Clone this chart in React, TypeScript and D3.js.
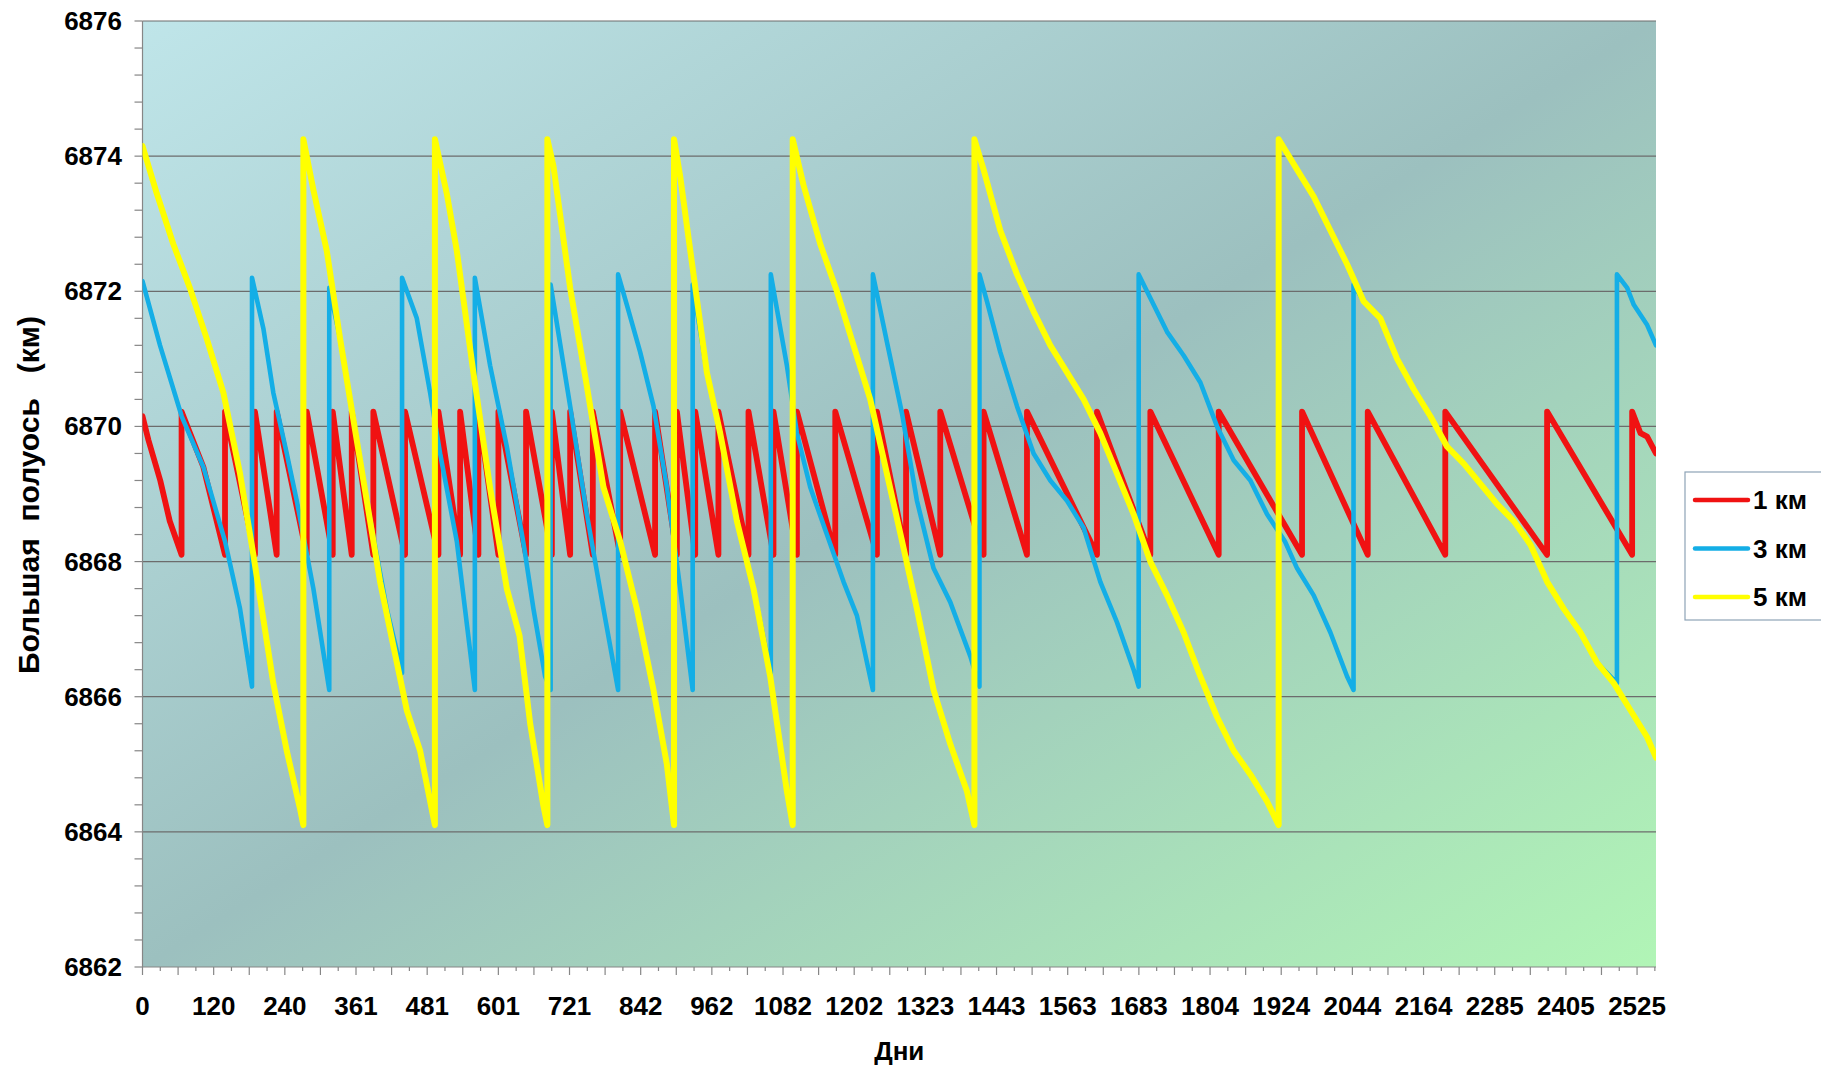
import React from "react";
import * as d3 from "d3";

const W = 1821;
const H = 1066;
const PLOT = { left: 142.5, right: 1656, top: 21, bottom: 967 };

const dayDomain = [0, 2557];
const valueDomain = [6862, 6876];
const yTickValues = [6862, 6864, 6866, 6868, 6870, 6872, 6874, 6876];
const xTickLabels = ["0", "120", "240", "361", "481", "601", "721", "842", "962", "1082", "1202", "1323", "1443", "1563", "1683", "1804", "1924", "2044", "2164", "2285", "2405", "2525"];
const seriesNames = ["1 км", "3 км", "5 км"];
const seriesColors = ["#f01212", "#14aee6", "#ffff00"];

// 1 km series: [day, semi-major axis km]
const red1km: [number, number][] = [
  [0, 6870.15], [10, 6869.8], [30, 6869.2], [46, 6868.6], [66, 6868.1],
  [66, 6870.22], [102.8, 6869.4], [139.4, 6868.1],
  [139.4, 6870.22], [190, 6868.1],
  [190, 6870.22], [226.7, 6868.1],
  [226.7, 6870.22], [277.5, 6868.1],
  [277.5, 6870.22], [321.4, 6868.1],
  [321.4, 6870.22], [353.5, 6868.1],
  [353.5, 6870.22], [390, 6868.1],
  [390, 6870.22], [443.6, 6868.1],
  [443.6, 6870.22], [500, 6868.1],
  [500, 6870.22], [536.6, 6868.1],
  [536.6, 6870.22], [567.5, 6868.1],
  [567.5, 6870.22], [601.3, 6868.1],
  [601.3, 6870.22], [648, 6868.1],
  [648, 6870.22], [691.6, 6868.1],
  [691.6, 6870.22], [722.5, 6868.1],
  [722.5, 6870.22], [760.8, 6868.1],
  [760.8, 6870.22], [807, 6868.1],
  [807, 6870.22], [866, 6868.1],
  [866, 6870.22], [902.8, 6868.1],
  [902.8, 6870.22], [933.8, 6868.1],
  [933.8, 6870.22], [973, 6868.1],
  [973, 6870.22], [1023.8, 6868.1],
  [1023.8, 6870.22], [1066, 6868.1],
  [1066, 6870.22], [1105.6, 6868.1],
  [1105.6, 6870.22], [1170.4, 6868.1],
  [1170.4, 6870.22], [1240.8, 6868.1],
  [1240.8, 6870.22], [1290, 6868.1],
  [1290, 6870.22], [1347.8, 6868.1],
  [1347.8, 6870.22], [1421, 6868.1],
  [1421, 6870.22], [1494.3, 6868.1],
  [1494.3, 6870.22], [1612.6, 6868.1],
  [1612.6, 6870.22], [1702.7, 6868.1],
  [1702.7, 6870.22], [1818.2, 6868.1],
  [1818.2, 6870.22], [1959, 6868.1],
  [1959, 6870.22], [2070, 6868.1],
  [2070, 6870.22], [2201, 6868.1],
  [2201, 6870.22], [2373, 6868.1],
  [2373, 6870.22], [2516.7, 6868.1],
  [2516.7, 6870.22], [2530.8, 6869.9], [2542, 6869.85], [2557, 6869.6],
];

// 3 km series
const blue3km: [number, number][] = [
  [0, 6872.15], [29.6, 6871.2], [66.2, 6870.15], [102.8, 6869.4], [139.4, 6868.3], [164.8, 6867.3], [185, 6866.15],
  [185, 6872.2], [204.2, 6871.45], [221, 6870.5], [243.7, 6869.6], [260.6, 6868.9], [288.7, 6867.6], [315.5, 6866.1],
  [315.5, 6872.05], [333.8, 6871.3], [356.3, 6870.1], [378.9, 6868.9], [412.7, 6867.3], [438.5, 6866.35],
  [438.5, 6872.2], [463.4, 6871.6], [485.9, 6870.5], [502.8, 6869.6], [531, 6868.3], [561.5, 6866.1],
  [561.5, 6872.2], [587.3, 6870.9], [615.5, 6869.7], [645, 6868.2], [660.5, 6867.3], [680.2, 6866.3], [689.5, 6866.1],
  [689.5, 6872.1], [722.5, 6870.3], [750.7, 6868.7], [778.8, 6867.3], [803.5, 6866.1],
  [803.5, 6872.25], [818.3, 6871.8], [840.8, 6871.1], [863.3, 6870.3], [885.9, 6869.1], [908.4, 6867.6], [929.5, 6866.1],
  [929.5, 6872.1], [953.5, 6870.8], [976, 6869.9], [1004.2, 6868.6], [1032.3, 6867.6], [1061.5, 6866.35],
  [1061.5, 6872.25], [1088.7, 6870.9], [1105.6, 6869.9], [1128.1, 6869.1], [1156.3, 6868.4], [1184.4, 6867.7], [1207, 6867.2], [1234, 6866.1],
  [1234, 6872.25], [1257.7, 6871.25], [1283, 6870.2], [1308.4, 6868.9], [1336.5, 6867.9], [1364.7, 6867.4], [1398.5, 6866.6], [1414, 6866.15],
  [1414, 6872.25], [1426.7, 6871.85], [1449.2, 6871.1], [1477.4, 6870.3], [1505.5, 6869.6], [1533.7, 6869.2], [1561.9, 6868.9], [1590, 6868.5], [1618.2, 6867.7], [1646.4, 6867.1], [1674.5, 6866.4], [1683, 6866.15],
  [1683, 6872.25], [1708.3, 6871.8], [1730.9, 6871.4], [1759, 6871.05], [1787.2, 6870.65], [1815.4, 6870.0], [1843.5, 6869.5], [1871.7, 6869.2], [1899.9, 6868.7], [1930, 6868.3], [1950.6, 6867.9], [1978.7, 6867.5], [2006.9, 6866.95], [2035.1, 6866.3], [2046, 6866.1],
  [2046, 6872.1], [2063.2, 6871.85], [2091.4, 6871.6], [2119.6, 6871.0], [2147.7, 6870.55], [2175.9, 6870.15], [2204.1, 6869.7], [2232.2, 6869.45], [2260.4, 6869.15], [2288.6, 6868.85], [2316.7, 6868.6], [2344.9, 6868.25], [2373.1, 6867.7], [2401.2, 6867.3], [2429.4, 6866.95], [2457.6, 6866.5], [2491, 6866.2],
  [2491, 6872.25], [2508.3, 6872.05], [2519.5, 6871.8], [2542.1, 6871.5], [2557, 6871.2],
];

// 5 km series
const yellow5km: [number, number][] = [
  [0, 6874.15], [24, 6873.45], [52, 6872.7], [80, 6872.05], [108.5, 6871.3], [136.6, 6870.5], [164.8, 6869.3], [187.3, 6868.1], [221, 6866.2], [243.7, 6865.2], [266, 6864.35], [271.8, 6864.1],
  [271.8, 6874.25], [288.7, 6873.5], [311.3, 6872.6], [333.8, 6871.3], [356.3, 6870.1], [378.9, 6868.9], [401.4, 6867.7], [423.9, 6866.75], [446.5, 6865.8], [469, 6865.2], [494, 6864.1],
  [494, 6874.25], [514, 6873.45], [531, 6872.6], [559, 6870.8], [587, 6869.1], [615.5, 6867.6], [637, 6866.9], [655, 6865.6], [677, 6864.4], [684, 6864.1],
  [684, 6874.25], [694.3, 6873.85], [722.5, 6872.05], [750.7, 6870.6], [778.8, 6869.1], [807, 6868.3], [835.2, 6867.3], [863.3, 6866.1], [885.9, 6865.0], [898, 6864.1],
  [898, 6874.25], [908.4, 6873.7], [930.9, 6872.25], [953.5, 6870.8], [976, 6869.9], [1004.2, 6868.6], [1032.3, 6867.6], [1060.5, 6866.3], [1088.7, 6864.6], [1098.5, 6864.1],
  [1098.5, 6874.25], [1116.8, 6873.57], [1145, 6872.7], [1173.2, 6872.0], [1201.3, 6871.2], [1229.5, 6870.4], [1257.7, 6869.3], [1282, 6868.35], [1308.4, 6867.3], [1336.5, 6866.1], [1364.7, 6865.3], [1392.9, 6864.6], [1405.5, 6864.1],
  [1405.5, 6874.25], [1421, 6873.8], [1449.2, 6872.9], [1477.4, 6872.25], [1505.5, 6871.7], [1533.7, 6871.2], [1561.9, 6870.8], [1590, 6870.4], [1618.2, 6869.9], [1646.4, 6869.3], [1674.5, 6868.7], [1702.7, 6868.0], [1730.9, 6867.5], [1759, 6866.95], [1787.2, 6866.3], [1815.4, 6865.7], [1843.5, 6865.2], [1871.7, 6864.85], [1899.9, 6864.45], [1919.5, 6864.1],
  [1919.5, 6874.25], [1950.6, 6873.8], [1978.7, 6873.4], [2006.9, 6872.9], [2035.1, 6872.4], [2063.2, 6871.85], [2091.4, 6871.6], [2119.6, 6871.0], [2147.7, 6870.55], [2175.9, 6870.15], [2204.1, 6869.7], [2232.2, 6869.45], [2260.4, 6869.15], [2288.6, 6868.85], [2316.7, 6868.6], [2344.9, 6868.25], [2373.1, 6867.7], [2401.2, 6867.3], [2429.4, 6866.95], [2457.6, 6866.5], [2485.7, 6866.2], [2513.9, 6865.8], [2542.1, 6865.4], [2557, 6865.1],
];

const seriesData = [red1km, blue3km, yellow5km];
const seriesWidths = [5.8, 4.6, 6];

const FONT = "'Liberation Sans', Arial, Helvetica, sans-serif";

export default function App() {
  const x = d3.scaleLinear().domain(dayDomain).range([PLOT.left, PLOT.right]);
  const y = d3.scaleLinear().domain(valueDomain).range([PLOT.bottom, PLOT.top]);
  const line = d3
    .line<[number, number]>()
    .x((d) => x(d[0]))
    .y((d) => y(d[1]));

  const labelStep = (+xTickLabels[xTickLabels.length - 1]) / (xTickLabels.length - 1);
  const tickStep = labelStep / 4;
  const xTicks = d3.range(0, dayDomain[1] + 0.01, tickStep);
  const yMinor = d3.range(valueDomain[0], valueDomain[1] + 0.001, 0.4);

  return (
    <svg width={W} height={H} style={{ position: "absolute", left: 0, top: 0, background: "#ffffff" }} fontFamily={FONT}>
      <defs>
        <linearGradient id="bgGrad" x1="0" y1="0" x2="1" y2="1">
          <stop offset="0" stopColor="#bfe5e9" />
          <stop offset="0.5" stopColor="#9cc0bf" />
          <stop offset="1" stopColor="#b1f5b6" />
        </linearGradient>
        <clipPath id="plotClip">
          <rect x={PLOT.left} y={PLOT.top - 4} width={PLOT.right - PLOT.left} height={PLOT.bottom - PLOT.top + 8} />
        </clipPath>
      </defs>
      <rect x={PLOT.left} y={PLOT.top} width={PLOT.right - PLOT.left} height={PLOT.bottom - PLOT.top} fill="url(#bgGrad)" />
      {yTickValues.slice(1).map((v) => (
        <line key={"g" + v} x1={PLOT.left} x2={PLOT.right} y1={y(v)} y2={y(v)} stroke="#6c6c6c" strokeWidth={1.2} />
      ))}
      {/* y axis */}
      <line x1={PLOT.left} x2={PLOT.left} y1={PLOT.top} y2={PLOT.bottom} stroke="#868686" strokeWidth={1.2} />
      {yMinor.map((v, i) => (
        <line key={"ym" + i} x1={PLOT.left - 8} x2={PLOT.left} y1={y(v)} y2={y(v)} stroke="#868686" strokeWidth={1.2} />
      ))}
      {yTickValues.map((v) => (
        <text key={"yl" + v} x={122} y={y(v) + 9} textAnchor="end" fontSize={26} fontWeight="bold" fill="#000">
          {v}
        </text>
      ))}
      {/* x axis */}
      <line x1={PLOT.left} x2={PLOT.right} y1={PLOT.bottom} y2={PLOT.bottom} stroke="#868686" strokeWidth={1.2} />
      {xTicks.map((t, i) => (
        <line key={"xt" + i} x1={x(t)} x2={x(t)} y1={PLOT.bottom} y2={PLOT.bottom + (i % 2 === 0 ? 8 : 4)} stroke="#868686" strokeWidth={1.2} />
      ))}
      {xTickLabels.map((l, i) => (
        <text key={"xl" + i} x={x(i * labelStep)} y={PLOT.bottom + 48} textAnchor="middle" fontSize={26} fontWeight="bold" fill="#000">
          {l}
        </text>
      ))}
      <text x={(PLOT.left + PLOT.right) / 2} y={1060} textAnchor="middle" fontSize={26} fontWeight="bold" fill="#000">
        Дни
      </text>
      <text
        transform={`translate(39, ${495}) rotate(-90)`}
        textAnchor="middle"
        fontSize={30}
        fontWeight="bold"
        fill="#000"
        style={{ whiteSpace: "pre" }}
      >
        {"Большая  полуось   (км)"}
      </text>
      <g clipPath="url(#plotClip)">
        {seriesData.map((d, i) => (
          <path key={"s" + i} d={line(d) || ""} fill="none" stroke={seriesColors[i]} strokeWidth={seriesWidths[i]} strokeLinejoin="round" strokeLinecap="round" />
        ))}
      </g>
      {/* legend */}
      <rect x={1685} y={472} width={160} height={148} fill="#ffffff" stroke="#8ea3b6" strokeWidth={1.2} />
      {seriesNames.map((n, i) => (
        <g key={"lg" + i}>
          <line x1={1695} x2={1748} y1={500 + i * 48.5} y2={500 + i * 48.5} stroke={seriesColors[i]} strokeWidth={4.5} strokeLinecap="round" />
          <text x={1753} y={500 + i * 48.5 + 9} fontSize={26} fontWeight="bold" fill="#000">
            {n}
          </text>
        </g>
      ))}
    </svg>
  );
}
